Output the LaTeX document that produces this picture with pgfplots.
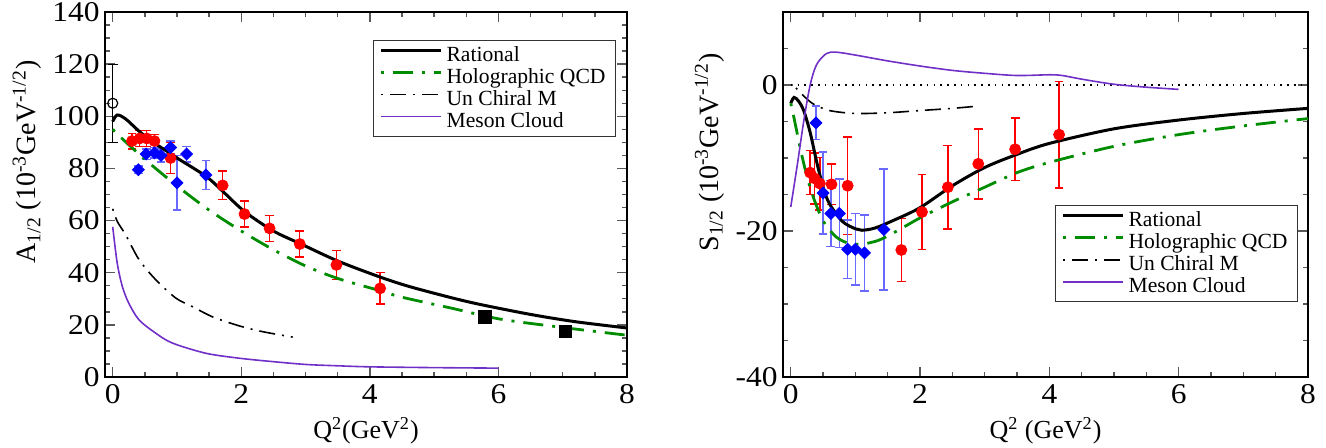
\documentclass[border=0pt]{standalone}
\usepackage{fontspec}
\setmainfont{Liberation Serif}
\newfontfamily\tickfont{Liberation Serif}[FakeStretch=1.1]
\usepackage{pgfplots}
\pgfplotsset{compat=1.18}

\definecolor{hgreen}{RGB}{0,140,0}
\definecolor{mcpurple}{RGB}{112,48,200}
\definecolor{ebblue}{RGB}{105,105,255}

\pgfplotsset{
  panel/.style={
    scale only axis, width=261pt, height=182.5pt,
    xmin=-0.12, xmax=8,
    xtick={0,2,4,6,8}, minor x tick num=3,
    tick align=inside, major tick length=5pt, minor tick length=2.6pt,
    axis line style={line width=1pt},
    tick style={black!65, line width=0.7pt},
    tick label style={font=\tickfont\fontsize{14.3}{15}\selectfont},
    xticklabel style={inner sep=3.5pt},
    yticklabel style={inner sep=2.5pt},
    xlabel style={font=\fontsize{13}{14}\selectfont},
    ylabel style={font=\fontsize{14}{15}\selectfont},
    /pgf/number format/assume math mode=true,
    legend style={draw=black!80, line width=0.5pt,
      font=\fontsize{10.8}{11}\selectfont,
      cells={anchor=west}, inner xsep=3pt, inner ysep=2pt, row sep=0pt,
      nodes={inner ysep=0.6pt, text height=7.6pt, text depth=2.2pt}},
    legend image code/.code={\draw[##1,line cap=butt] (0pt,2.6pt) -- (30pt,2.6pt);},
  },
  rat/.style={black, line width=1.5pt, smooth, no marks},
  holo/.style={hgreen, line width=1.4pt, smooth, no marks,
    dash pattern=on 1.5pt off 4.5pt on 10pt off 4.5pt},
  uchi/.style={black, line width=0.8pt, smooth, no marks,
    dash pattern=on 1pt off 3.5pt on 8pt off 3.5pt},
  meson/.style={mcpurple, line width=0.8pt, smooth, no marks},
  reddata/.style={only marks, mark=*, mark size=2.75pt, red,
    error bars/y dir=both, error bars/y explicit,
    error bars/error bar style={red, line width=0.7pt},
    error bars/error mark options={rotate=90, red, mark size=2.2pt, line width=0.7pt}},
  bluedata/.style={only marks, mark=square*, mark size=2.1pt, blue,
    mark options={rotate=45},
    error bars/y dir=both, error bars/y explicit,
    error bars/error bar style={ebblue, line width=0.7pt},
    error bars/error mark options={rotate=90, ebblue, mark size=2.2pt, line width=0.7pt}},
}

\pgfplotstableread{
x y
0 98
0.07 100.5
0.2 99
0.4 94.5
0.6 90.5
0.85 86.5
1.0 84
1.45 77
1.7 71.5
2.05 63.5
2.5 56
2.93 51
3.5 44.5
4.13 38.6
4.6 34.8
5.27 30.4
5.74 27.7
6.5 24
7.2 21.2
8 18.8
}\ratL

\pgfplotstableread{
x y
0 95
0.1 92.5
0.5 83.5
1.0 73.3
1.5 64
2.0 56
2.5 48.8
3.0 42.6
3.5 37.8
4.13 33.3
4.5 30.6
5.27 26.4
6.03 22.2
7 19
7.87 16.4
8 16.1
}\holoL

\pgfplotstableread{
x y
0 64.5
0.07 59.7
0.2 54.6
0.41 45
0.67 37.3
0.98 30.3
1.24 27
1.56 23
1.97 19.6
2.33 17.4
2.8 15.3
}\uchiL

\pgfplotstableread{
x y
0 57.6
0.07 43.7
0.15 34.7
0.25 28.3
0.41 21.9
0.67 16.8
0.93 13
1.45 9.1
1.97 7.2
2.49 5.9
3.01 4.8
3.5 4.3
4 3.9
5 3.6
6 3.4
}\mesonL

\pgfplotstableread{
x y e
0.30 90.5 3
0.42 91.5 3
0.53 91.5 3
0.65 90.5 2.5
0.90 84 6
1.71 73.5 5.5
2.05 62.5 5
2.44 57 5
2.91 51 5
3.48 43 5.5
4.16 34 6
}\redL

\pgfplotstableread{
x y e
0.40 79.5 1.5
0.52 85.5 2
0.65 86 2
0.75 85 2.5
0.90 88 2.5
1.00 74.5 10.5
1.15 85.5 3
1.45 77.5 5.5
}\blueL

\pgfplotstableread{
x y
0 -2.5
0.05 -1.7
0.12 -2.2
0.2 -3.5
0.3 -6.5
0.4 -10.5
0.5 -14
0.6 -16.3
0.8 -18.7
1 -19.7
1.1 -19.9
1.3 -19.6
1.6 -18.5
2 -16.8
2.5 -13.8
3 -11.3
3.5 -9.5
4 -8
5 -6
6 -4.8
7 -3.9
8 -3.2
}\ratR

\pgfplotstableread{
x y
0 -2.5
0.05 -4.5
0.15 -8.8
0.25 -12.5
0.35 -15.4
0.5 -18.6
0.7 -20.8
0.9 -21.7
1.1 -21.8
1.35 -21.3
1.6 -20.2
2 -18.2
2.5 -16
3 -14
3.5 -12
4 -10.6
5 -8.4
6 -6.8
7 -5.6
8 -4.6
}\holoR

\pgfplotstableread{
x y
0.08 -0.4
0.2 -1.5
0.35 -2.6
0.6 -3.5
1 -3.9
1.5 -3.8
2 -3.5
2.5 -3.2
2.88 -2.9
}\uchiR

\pgfplotstableread{
x y
0 -16.7
0.1 -11
0.2 -5
0.3 0
0.4 2.8
0.55 4.3
0.7 4.5
1 4.1
1.5 3.3
2 2.6
2.5 2.0
3 1.6
3.5 1.3
4 1.4
4.2 1.3
4.5 0.8
5 0.1
5.5 -0.3
6 -0.6
}\mesonR

\pgfplotstableread{
x y e
0.30 -12 3
0.37 -12.8 3.5
0.45 -13.5 3.6
0.63 -13.6 2.8
0.88 -13.8 6.7
1.71 -22.6 4.3
2.03 -17.4 5.1
2.43 -14 5.7
2.90 -10.8 4.8
3.47 -8.8 4.3
4.15 -6.8 7.3
}\redR

\pgfplotstableread{
x y e
0.39 -5.2 2.3
0.50 -14.8 5.6
0.62 -17.6 4.5
0.75 -17.6 4.7
0.88 -22.5 4
1.00 -22.5 4.9
1.14 -23 5.2
1.44 -19.8 8.3
}\blueR

\begin{document}
\begin{tikzpicture}
\path[use as bounding box] (0pt,0pt) rectangle (663pt,-224pt);

\begin{axis}[panel, at={(52.5pt,-188.5pt)}, anchor=south west, width=261pt,
  ymin=0, ymax=140, ytick={0,20,...,140}, minor y tick num=3,
  xlabel={Q\textsuperscript{2}(GeV\textsuperscript{2})},
  ylabel={A\textsubscript{1/2} (10\textsuperscript{-3}GeV\textsuperscript{-1/2})},
  ylabel style={at={(axis description cs:-0.149,0.589)}, anchor=center},
  legend style={at={(0.979,0.923)}, anchor=north east}]
\addplot[forget plot, reddata] table[x=x, y=y, y error=e] {\redL};
\addplot[forget plot, bluedata] table[x=x, y=y, y error=e] {\blueL};
\addplot[forget plot, only marks, mark=o, mark size=2.5pt, black, line width=0.6pt,
  error bars/y dir=both, error bars/y explicit,
  error bars/error bar style={black, line width=0.6pt},
  error bars/error mark options={rotate=90, black, mark size=2.5pt, line width=0.6pt}]
  coordinates {(0,105) +- (0,15)};
\addplot[forget plot, only marks, mark=square*, mark size=3.1pt, black]
  coordinates {(5.79,23) (7.04,17.6)};
\addplot[rat] table {\ratL};
\addlegendentry{Rational}
\addplot[holo] table {\holoL};
\addlegendentry{Holographic QCD}
\addplot[uchi] table {\uchiL};
\addlegendentry{Un Chiral M}
\addplot[meson] table {\mesonL};
\addlegendentry{Meson Cloud}
\end{axis}

\begin{axis}[panel, at={(391.5pt,-188.5pt)}, anchor=south west, width=262.5pt,
  ymin=-40, ymax=10, ytick={-40,-20,0}, yticklabels={-40,-20,0},
  minor ytick={-35,-30,-25,-15,-10,-5,5},
  xlabel={Q\textsuperscript{2} (GeV\textsuperscript{2})},
  ylabel={S\textsubscript{1/2} (10\textsuperscript{-3}GeV\textsuperscript{-1/2})},
  ylabel style={at={(axis description cs:-0.14,0.615)}, anchor=center},
  legend style={at={(0.981,0.47)}, anchor=north east}]
\addplot[forget plot, black, line width=0.6pt, dash pattern=on 0.8pt off 2.6pt]
  coordinates {(0,0) (8,0)};
\addplot[forget plot, reddata] table[x=x, y=y, y error=e] {\redR};
\addplot[forget plot, bluedata] table[x=x, y=y, y error=e] {\blueR};
\addplot[rat] table {\ratR};
\addlegendentry{Rational}
\addplot[holo] table {\holoR};
\addlegendentry{Holographic QCD}
\addplot[uchi] table {\uchiR};
\addlegendentry{Un Chiral M}
\addplot[meson] table {\mesonR};
\addlegendentry{Meson Cloud}
\end{axis}
\end{tikzpicture}
\end{document}
